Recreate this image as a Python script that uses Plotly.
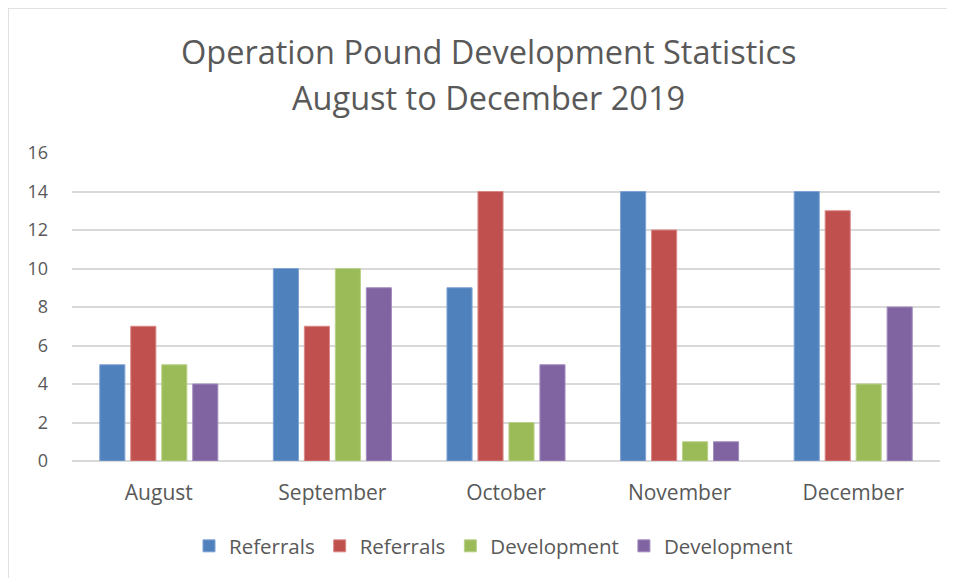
import plotly.graph_objects as go

months = ["August", "September", "October", "November", "December"]
series_names = ["Referrals", "Referrals", "Development", "Development"]
referrals_a = [5, 10, 9, 14, 14]
referrals_b = [7, 7, 14, 12, 13]
development_a = [5, 10, 2, 1, 4]
development_b = [4, 9, 5, 1, 8]
y_ticks = [0, 2, 4, 6, 8, 10, 12, 14, 16]

colors = ["#4F81BD", "#C0504D", "#9BBB59", "#8064A2"]
edges = ["#7FA3D3", "#D98886", "#B9D18A", "#A38CBF"]
values = [referrals_a, referrals_b, development_a, development_b]

fig = go.Figure()
for name, vals, c, e in zip(series_names, values, colors, edges):
    fig.add_trace(go.Bar(x=months, y=vals, name=name,
                         marker=dict(color=c, line=dict(color=e, width=1))))

font_family = "Open Sans, Liberation Sans, sans-serif"
gray = "#595959"

# page body has an 8px margin, so margins are offset to land the plot at screen x 72-940, y 153-461
fig.update_layout(
    width=955, height=578,
    margin=dict(l=64, r=23, t=145, b=125),
    paper_bgcolor="white", plot_bgcolor="white",
    bargap=0.286, bargroupgap=0.19,
    font=dict(family=font_family, color=gray, size=17),
    showlegend=True,
    legend=dict(orientation="h", x=0.4856, xanchor="center", y=-0.276, yanchor="middle",
                font=dict(size=20.5, color=gray), itemwidth=30, traceorder="normal"),
    xaxis=dict(showgrid=False, ticks="", tickfont=dict(size=21, color=gray),
               showline=False, ticklabelstandoff=17),
    yaxis=dict(range=[0, 16], tickvals=y_ticks, showgrid=True, gridcolor="#D9D9D9",
               gridwidth=1.5, zeroline=True, zerolinecolor="#D9D9D9", zerolinewidth=1.5,
               tickfont=dict(size=18, color=gray), ticks="", ticklabelstandoff=23),
    shapes=[
        dict(type="line", xref="paper", yref="paper", x0=-0.0737, x1=1.05, y0=1.4708, y1=1.4708,
             line=dict(color="#D9D9D9", width=1.5), layer="below"),
        dict(type="line", xref="paper", yref="paper", x0=-0.0737, x1=-0.0737, y0=1.4708, y1=-0.45,
             line=dict(color="#D9D9D9", width=1.5), layer="below"),
    ],
    annotations=[
        dict(text="Operation Pound Development Statistics", xref="paper", yref="paper",
             x=0.4804, y=1.328, xanchor="center", yanchor="middle", showarrow=False,
             font=dict(size=32.5, color=gray, family=font_family)),
        dict(text="August to December 2019", xref="paper", yref="paper",
             x=0.4804, y=1.1786, xanchor="center", yanchor="middle", showarrow=False,
             font=dict(size=32.5, color=gray, family=font_family)),
    ],
)

fig.write_html("out.html")
